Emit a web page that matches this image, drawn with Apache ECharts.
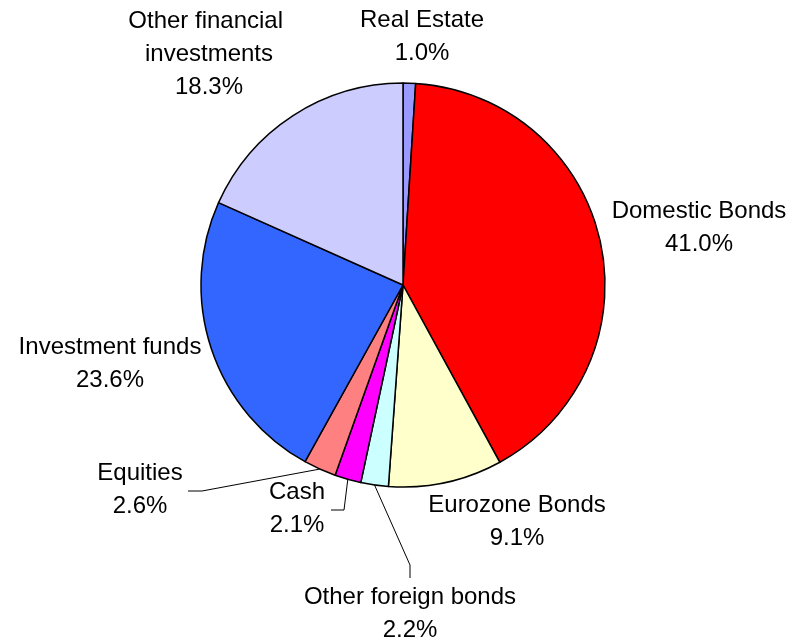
<!DOCTYPE html>
<html>
<head>
<meta charset="utf-8">
<script src="https://cdn.jsdelivr.net/npm/echarts@6/dist/echarts.min.js"></script>
<style>
    html, body { margin: 0; padding: 0; background: #ffffff; }
    #chart { width: 807px; height: 640px; }
</style>
</head>
<body>
<div id="chart"></div>
<script>
// portfolio split, clockwise from 12 o'clock
const categories = [
    "Real Estate",
    "Domestic Bonds",
    "Eurozone Bonds",
    "Other foreign bonds",
    "Cash",
    "Equities",
    "Investment funds",
    "Other financial investments",
];
const shares = [1.0, 41.0, 9.1, 2.2, 2.1, 2.6, 23.6, 18.3];
const colors = ["#9999ff", "#ff0000", "#ffffcc", "#ccffff", "#ff00ff", "#ff8080", "#3366ff", "#ccccff"];

// where each label block sits (center), and the bends of the leader lines
const labelPos = [
    [422, 37],
    [699, 228],
    [517, 522],
    [410, 614],
    [297, 509],
    [140, 490],
    [110, 364],
    [209, 54],
];
const leaderBends = {
    3: [[410, 565], [410, 578]],
    4: [[344, 510], [331, 510]],
    5: [[202, 491], [188, 491]],
};

const chart = echarts.init(document.getElementById("chart"));

const option = {
    animation: false,
    backgroundColor: "#ffffff",
    textStyle: { fontFamily: "Liberation Sans, Arial, sans-serif" },
    series: [
        {
            type: "pie",
            center: [403, 285],
            radius: 202,
            startAngle: 90,
            clockwise: true,
            avoidLabelOverlap: false,
            minShowLabelAngle: 0,
            itemStyle: { borderColor: "#000000", borderWidth: 1.5 },
            label: {
                show: true,
                position: "outside",
                color: "#000000",
                fontSize: 24,
                lineHeight: 33,
                align: "center",
                formatter: (p) => p.name + "\n" + p.value.toFixed(1) + "%",
            },
            labelLine: {
                show: true,
                length: 5,
                length2: 5,
                lineStyle: { color: "#000000", width: 1 },
            },
            labelLayout: (params) => {
                const i = params.dataIndex;
                const out = {
                    x: labelPos[i][0],
                    y: labelPos[i][1],
                    align: "center",
                    verticalAlign: "middle",
                };
                if (leaderBends[i] && params.labelLinePoints) {
                    out.labelLinePoints = [params.labelLinePoints[0]].concat(leaderBends[i]);
                }
                return out;
            },
            data: categories.map((name, i) => ({
                name: name,
                value: shares[i],
                itemStyle: { color: colors[i] },
                label: i === 7 ? { width: 170, overflow: "break" } : {},
                labelLine: { show: !!leaderBends[i] },
            })),
        },
    ],
};

chart.setOption(option);
</script>
</body>
</html>
